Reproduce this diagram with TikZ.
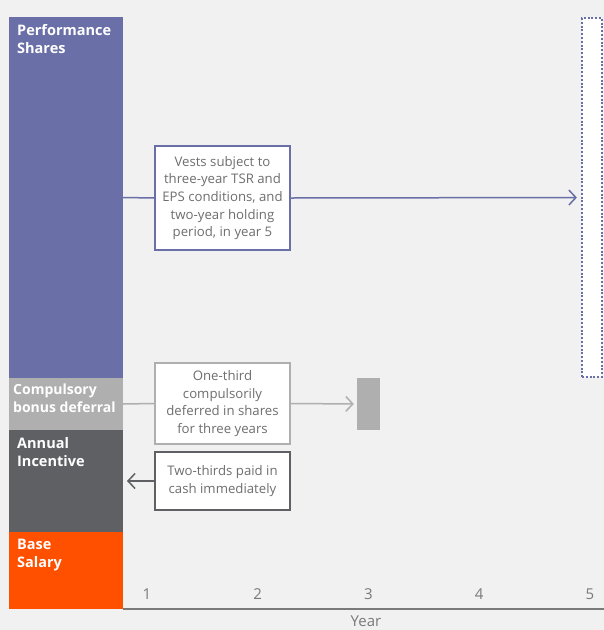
\documentclass[tikz,border=0pt]{standalone}
\usepackage{fontspec}
\setmainfont{Open Sans}
\usepackage{xcolor}
\usetikzlibrary{arrows.meta}
\definecolor{perfcol}{HTML}{6A6FA8}
\definecolor{compcol}{HTML}{AFAFAF}
\definecolor{annualcol}{HTML}{5F6064}
\definecolor{basecol}{HTML}{FF5000}
\definecolor{bgcol}{HTML}{F0F1F0}
\definecolor{txtcol}{HTML}{6E6E6E}
\definecolor{axiscol}{HTML}{7A7A7A}

\begin{document}
\begin{tikzpicture}[x=1pt, y=-1pt,
  bar/.style={inner sep=0, outer sep=0, minimum width=114pt},
  barlabel/.style={anchor=north west, inner sep=0, text=white, font=\fontsize{14.5}{18}\selectfont\bfseries, align=left},
  infobox/.style={draw, line width=1.5pt, fill=white, inner sep=0, minimum width=135pt, text=txtcol, font=\fontsize{13.2}{17.7}\selectfont, align=center},
  tip/.style={-{Straight Barb[length=7pt, width=15pt]}, line width=1.5pt}]
\fill[bgcol] (0,0) rectangle (604,630);
\useasboundingbox (0,0) rectangle (604,630);
% bars on the left
\node[bar, fill=perfcol, minimum height=361pt] (perf) at (66,197.5) {};
\node[bar, fill=compcol, minimum height=52pt] (comp) at (66,404) {};
\node[bar, fill=annualcol, minimum height=102pt] (annual) at (66,481) {};
\node[bar, fill=basecol, minimum height=77pt] (base) at (66,570.5) {};
\node[barlabel] at ([xshift=8pt, yshift=-7pt]perf.north west) {Performance\\Shares};
\node[barlabel, font=\fontsize{14}{18}\selectfont\bfseries] at ([xshift=4pt, yshift=-6pt]comp.north west) {Compulsory\\bonus deferral};
\node[barlabel] at ([xshift=8pt, yshift=-7pt]annual.north west) {Annual\\Incentive};
\node[barlabel] at ([xshift=8pt, yshift=-7pt]base.north west) {Base\\Salary};
% boxes
\node[infobox, draw=perfcol, minimum height=104pt] (vests) at (222.5,198) {Vests subject to\\three-year TSR and\\EPS conditions, and\\two-year holding\\period, in year 5};
\node[infobox, draw=compcol, minimum height=81pt] (oneth) at (222.5,403.5) {One-third\\compulsorily\\deferred in shares\\for three years};
\node[infobox, draw=annualcol, minimum height=58pt] (twoth) at (222.5,481) {Two-thirds paid in\\cash immediately};
\node[draw=perfcol, line width=2.2pt, dash pattern=on 2pt off 1.8pt, fill=white, minimum width=20pt, minimum height=359pt, inner sep=0] (year5) at (592,197.5) {};
\node[fill=compcol, minimum width=23pt, minimum height=52pt, inner sep=0] (year3) at (368.5,404) {};
% arrows
\draw[perfcol, line width=1.5pt] (perf.east) -- (vests.west);
\draw[perfcol, tip, shorten >=4pt] (vests.east) -- (year5.west);
\draw[compcol, line width=1.5pt] (comp.east) -- (oneth.west);
\draw[compcol, tip, shorten >=3pt] (oneth.east) -- (year3.west);
\draw[annualcol, tip, shorten >=4pt] (twoth.west) -- (annual.east);
% axis
\coordinate (axisend) at (604,609);
\draw[axiscol, line width=1.5pt] (base.south east) -- (axisend);
\foreach \y in {1,...,5} \node[text=axiscol, font=\fontsize{15}{17}\selectfont] (yr\y) at (147+110.75*\y-110.75, 594) {\y};
\node[text=axiscol, font=\fontsize{15}{17}\selectfont] (yearlbl) at (366,621) {Year};
\end{tikzpicture}
\end{document}
